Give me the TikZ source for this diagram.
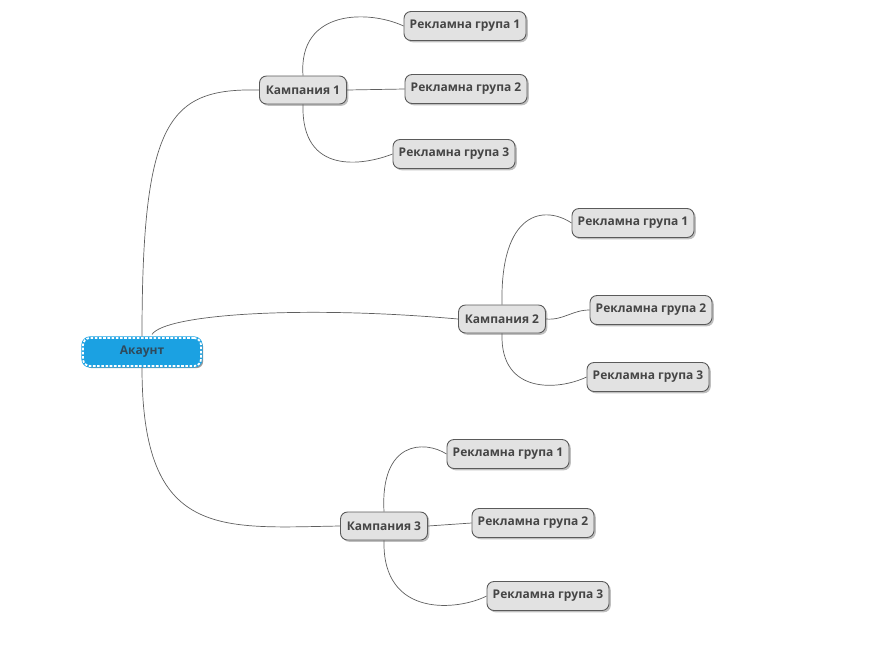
\documentclass[tikz,border=0pt]{standalone}
\usepackage{fontspec}
\setmainfont{Open Sans}
\usetikzlibrary{positioning, shadows}

\definecolor{akblue}{HTML}{1BA1E2}
\definecolor{boxgray}{HTML}{E2E2E2}
\definecolor{rimgray}{HTML}{5A5A5A}
\definecolor{txtgray}{HTML}{454545}
\definecolor{aktext}{HTML}{2F4A5C}
\definecolor{linegray}{HTML}{5F5F5F}

\tikzset{
  topic/.style = {draw=rimgray, fill=boxgray, rounded corners=7pt, line width=0.9pt,
    inner sep=0pt, text=txtgray, font=\fontsize{12}{14}\selectfont\bfseries,
    drop shadow={shadow xshift=1.8pt, shadow yshift=-1.8pt, opacity=0.5}},
  campbox/.style = {topic, minimum width=87pt, minimum height=28pt},
  groupbox/.style = {topic, minimum width=122pt, minimum height=29pt},
  rootbox/.style = {fill=akblue, draw=akblue, line width=3.2pt, rounded corners=7pt,
    minimum width=118pt, minimum height=28pt, inner sep=0pt,
    text=aktext, font=\fontsize{12}{14}\selectfont\bfseries,
    drop shadow={shadow xshift=2.2pt, shadow yshift=-2.2pt, opacity=0.8},
    postaction={draw=white, line width=1.8pt, dash pattern=on 2.6pt off 1.6pt}},
  link/.style = {draw=linegray, line width=0.7pt}
}

\begin{document}
\begin{tikzpicture}[x=1pt, y=-1pt]
  \useasboundingbox (0,0) rectangle (893,657);

  % root
  \node[rootbox] (ak) at (142,352) {Акаунт};

  % campaigns
  \node[campbox] (k1) at (303,90) {Кампания 1};
  \node[campbox] (k2) at (502,319) {Кампания 2};
  \node[campbox] (k3) at (384,526) {Кампания 3};

  % ad groups
  \node[groupbox] (k1g1) at (465,26) {Рекламна група 1};
  \node[groupbox] (k1g2) at (466,89) {Рекламна група 2};
  \node[groupbox] (k1g3) at (454,154) {Рекламна група 3};

  \node[groupbox] (k2g1) at (633,223) {Рекламна група 1};
  \node[groupbox] (k2g2) at (651,310) {Рекламна група 2};
  \node[groupbox] (k2g3) at (648,377) {Рекламна група 3};

  \node[groupbox] (k3g1) at (508,454) {Рекламна група 1};
  \node[groupbox] (k3g2) at (533,523) {Рекламна група 2};
  \node[groupbox] (k3g3) at (548,596) {Рекламна група 3};

  % links from the root
  \draw[link] (ak.north) .. controls +(0,-217) and +(-90,-2) .. (k1.west);
  \draw[link] (ak.north) ++(10,-2) coordinate (akr)
    (akr) .. controls +(13,-20) and +(-158,-14) .. (k2.west);
  \draw[link] (ak.south) .. controls +(0,172) and +(-120,2) .. (k3.west);

  % campaign 1
  \draw[link] (k1.north) .. controls +(-5,-67) and +(-34,-16) .. (k1g1.west);
  \draw[link] (k1.east) -- (k1g2.west);
  \draw[link] (k1.south) .. controls +(-2,72) and +(-28,11) .. (k1g3.west);

  % campaign 2
  \draw[link] (k2.north) .. controls +(-2,-94) and +(-27,-18) .. (k2g1.west);
  \draw[link] (k2.east) to[out=-5, in=180] (k2g2.west);
  \draw[link] (k2.south) .. controls +(-2,62) and +(-27,13) .. (k2g3.west);

  % campaign 3
  \draw[link] (k3.north) .. controls +(-4,-71) and +(-22,-14) .. (k3g1.west);
  \draw[link] (k3.east) -- (k3g2.west);
  \draw[link] (k3.south) .. controls +(-2,79) and +(-27,14) .. (k3g3.west);
\end{tikzpicture}
\end{document}
